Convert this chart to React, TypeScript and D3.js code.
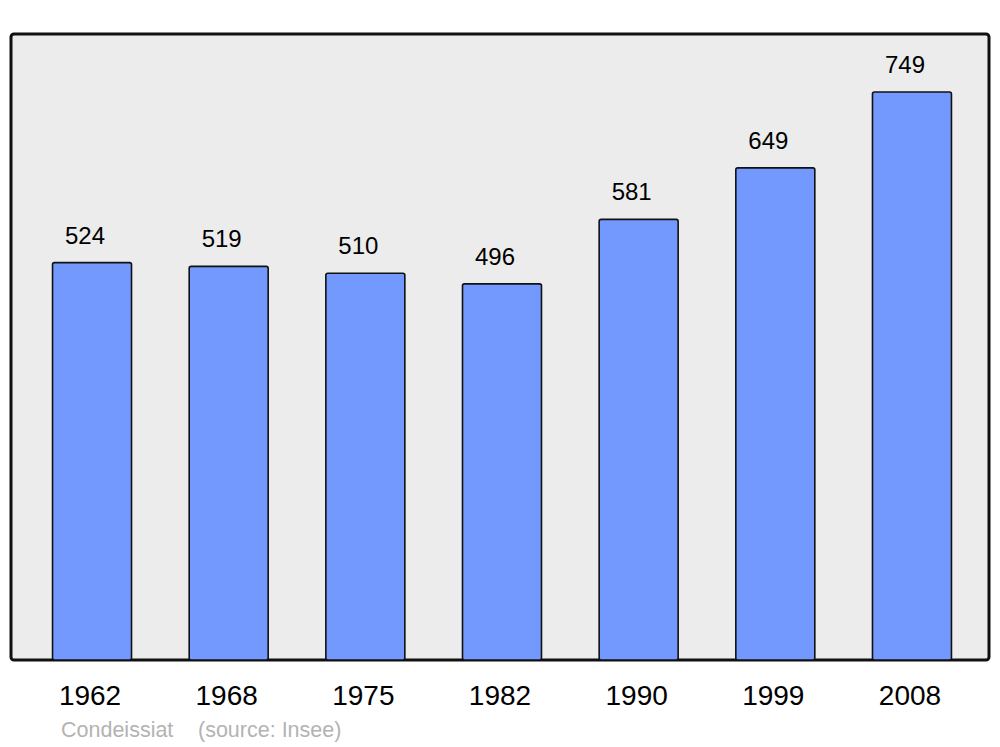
import React from "react";
import * as d3 from "d3";

const years = ["1962", "1968", "1975", "1982", "1990", "1999", "2008"];
const population = [524, 519, 510, 496, 581, 649, 749];
const placeName = "Condeissiat";
const sourceText = "(source: Insee)";

export default function App() {
  const W = 1000, H = 747;
  const plot = { x0: 11, y0: 34, x1: 989, y1: 660 };
  const x = d3.scaleBand<string>().domain(years).range([23.7, 980.3]).paddingInner(0.422).paddingOuter(0.211);
  const y = d3.scaleLinear().domain([0, 749]).range([plot.y1, 92]);
  const font = "'Liberation Sans', Arial, sans-serif";
  return (
    <svg width={W} height={H} style={{ position: "absolute", left: 0, top: 0 }} fontFamily={font}>
      <rect x={0} y={0} width={W} height={H} fill="#ffffff" />
      <rect x={plot.x0} y={plot.y0} width={plot.x1 - plot.x0} height={plot.y1 - plot.y0} rx={3} fill="#ececec" stroke="#111" strokeWidth={3} />
      {years.map((yr, i) => {
        const bx = x(yr)!;
        const bw = x.bandwidth();
        const top = y(population[i]);
        return (
          <g key={yr}>
            <rect x={bx} y={top} width={bw} height={plot.y1 - top} rx={2} fill="#7399ff" stroke="#111" strokeWidth={1.6} />
            <text x={bx + bw / 2 - 7} y={top - 19} fontSize={24} textAnchor="middle" fill="#000">{population[i]}</text>
            <text x={bx + bw / 2 - 2} y={705} fontSize={28} textAnchor="middle" fill="#000">{yr}</text>
          </g>
        );
      })}
      <text x={61} y={737} fontSize={21.5} fill="#b3b3b3">{placeName}</text>
      <text x={198} y={737} fontSize={21.5} fill="#b3b3b3">{sourceText}</text>
    </svg>
  );
}
